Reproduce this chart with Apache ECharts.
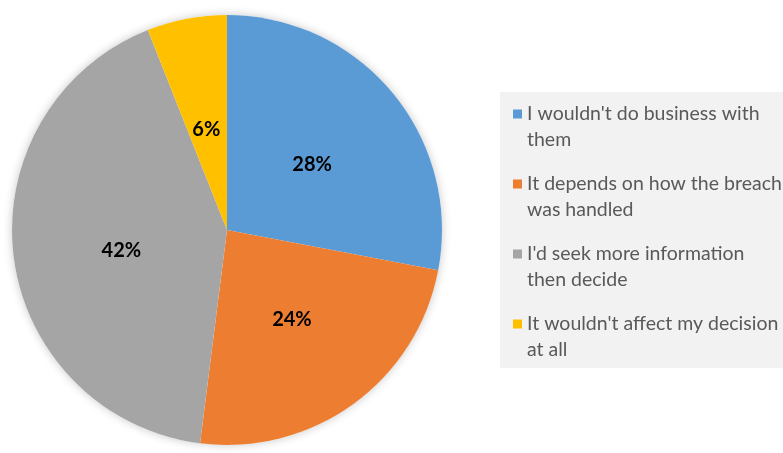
<!DOCTYPE html>
<html>
<head>
<meta charset="utf-8">
<script src="https://cdn.jsdelivr.net/npm/echarts@6/dist/echarts.min.js"></script>
<style>
  html, body { margin: 0; padding: 0; background: #ffffff; }
  #chart { width: 783px; height: 453px; }
</style>
</head>
<body>
<div id="chart"></div>
<script>
// Survey answers and their shares (percent)
const categories = [
  "I wouldn't do business with them",
  "It depends on how the breach was handled",
  "I'd seek more information then decide",
  "It wouldn't affect my decision at all"
];
const shares = [28, 24, 42, 6];
const colors = ['#5B9BD5', '#ED7D31', '#A5A5A5', '#FFC000'];

// Legend entries wrap onto two lines
const legendLines = {
  "I wouldn't do business with them": ["I wouldn't do business with", "them"],
  "It depends on how the breach was handled": ["It depends on how the breach", "was handled"],
  "I'd seek more information then decide": ["I'd seek more information", "then decide"],
  "It wouldn't affect my decision at all": ["It wouldn't affect my decision", "at all"]
};

// small nudges for the in-slice percentage labels (px)
const labelNudges = [[0, 5], [0, 0], [4, 7], [0, 8]];

const total = shares.reduce((a, b) => a + b, 0);
const center = [227, 230];
const radius = 215;

const chart = echarts.init(document.getElementById('chart'), null, { renderer: 'canvas' });
chart.setOption({
  animation: false,
  backgroundColor: '#ffffff',
  color: colors,
  graphic: [{
    type: 'rect',
    z: -10,
    shape: { x: 500, y: 92, width: 300, height: 276 },
    style: { fill: '#f2f2f2' },
    silent: true
  }],
  legend: {
    orient: 'vertical',
    left: 513,
    top: 75,
    padding: 0,
    itemWidth: 9,
    itemHeight: 9,
    itemGap: -8,
    icon: 'rect',
    data: categories,
    // a blank first line keeps the marker level with the first text line
    formatter: name => ' \n' + legendLines[name].join('\n'),
    textStyle: {
      fontFamily: 'Lato',
      fontSize: 19.5,
      color: '#595959',
      lineHeight: 26
    }
  },
  series: [
    {
      // soft halo behind the pie
      type: 'pie',
      silent: true,
      center: center,
      radius: radius,
      z: 1,
      label: { show: false },
      labelLine: { show: false },
      itemStyle: {
        color: '#ffffff',
        shadowBlur: 10,
        shadowColor: 'rgba(0,0,0,0.22)'
      },
      data: [{ value: total, name: '' }],
      legendHoverLink: false
    },
    {
      type: 'pie',
      center: center,
      radius: radius,
      startAngle: 90,
      clockwise: true,
      z: 2,
      label: {
        show: true,
        position: 'inside',
        formatter: p => p.value + '%',
        fontFamily: 'Lato',
        fontWeight: 'bold',
        fontSize: 20,
        color: '#000000'
      },
      labelLine: { show: false },
      itemStyle: { borderWidth: 0 },
      data: categories.map((c, i) => ({
        name: c,
        value: shares[i],
        label: { offset: labelNudges[i] }
      }))
    }
  ]
});
</script>
</body>
</html>
